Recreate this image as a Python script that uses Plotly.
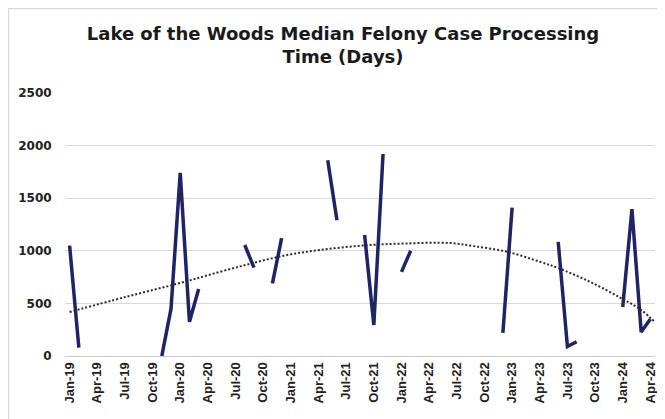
import plotly.graph_objects as go

months = [
    "Jan-19", "Feb-19", "Mar-19", "Apr-19", "May-19", "Jun-19", "Jul-19", "Aug-19", "Sep-19", "Oct-19", "Nov-19", "Dec-19",
    "Jan-20", "Feb-20", "Mar-20", "Apr-20", "May-20", "Jun-20", "Jul-20", "Aug-20", "Sep-20", "Oct-20", "Nov-20", "Dec-20",
    "Jan-21", "Feb-21", "Mar-21", "Apr-21", "May-21", "Jun-21", "Jul-21", "Aug-21", "Sep-21", "Oct-21", "Nov-21", "Dec-21",
    "Jan-22", "Feb-22", "Mar-22", "Apr-22", "May-22", "Jun-22", "Jul-22", "Aug-22", "Sep-22", "Oct-22", "Nov-22", "Dec-22",
    "Jan-23", "Feb-23", "Mar-23", "Apr-23", "May-23", "Jun-23", "Jul-23", "Aug-23", "Sep-23", "Oct-23", "Nov-23", "Dec-23",
    "Jan-24", "Feb-24", "Mar-24", "Apr-24",
]

median_days = [
    1050, 80, None, None, None, None, None, None, None, None, 0, 450,
    1740, 325, 637, None, None, None, None, 1055, 840, None, 690, 1120,
    None, None, None, None, 1860, 1290, None, None, 1150, 295, 1920, None,
    800, 1000, None, None, None, None, None, None, None, None, None, 220,
    1410, None, None, None, None, 1085, 90, 135, None, None, None, None,
    466, 1397, 228, 352,
]

# dotted trendline (month position, value)
trend_month = [0, 6, 12, 16.3, 19.9, 23.6, 27.2, 31.8, 36.5, 41.3, 43.8, 47.5, 51.1, 53, 56.5, 59.8, 62, 63.6]
trend_value = [418, 560, 694, 800, 884, 960, 1008, 1050, 1070, 1074, 1045, 990, 893, 836, 703, 551, 437, 314]

tick_labels = [
    "Jan-19", "Apr-19", "Jul-19", "Oct-19", "Jan-20", "Apr-20", "Jul-20", "Oct-20",
    "Jan-21", "Apr-21", "Jul-21", "Oct-21", "Jan-22", "Apr-22", "Jul-22", "Oct-22",
    "Jan-23", "Apr-23", "Jul-23", "Oct-23", "Jan-24", "Apr-24",
]

y_ticks = [0, 500, 1000, 1500, 2000, 2500]

x_idx = list(range(len(months)))
tick_idx = [months.index(t) for t in tick_labels]

fig = go.Figure()
fig.add_trace(go.Scatter(
    x=x_idx, y=median_days, mode="lines",
    line=dict(color="#1F2466", width=3.5),
    connectgaps=False, hoverinfo="skip", showlegend=False,
))
fig.add_trace(go.Scatter(
    x=trend_month, y=trend_value, mode="lines",
    line=dict(color="#2b2b2b", width=2, dash="2px,2px", shape="spline", smoothing=1.0),
    hoverinfo="skip", showlegend=False,
))

OFF = 8  # page body margin
W, H = 665, 419
L, R, T, B = 65 - OFF, 10 + OFF, 93 - OFF, 63 + OFF
pw, ph = W - L - R, H - T - B

# faint chart-area border on top and left
fig.add_shape(type="path", xref="paper", yref="paper",
              path=f"M {(0.5 - L) / pw} {(H - B - H) / ph} L {(0.5 - L) / pw} {(H - B - 0.5) / ph} L {(W - L) / pw} {(H - B - 0.5) / ph}",
              line=dict(color="#DADADA", width=1.5), layer="below")

fig.update_layout(
    width=W, height=H,
    margin=dict(l=L, r=R, t=T, b=B),
    paper_bgcolor="white", plot_bgcolor="white",
    title=dict(
        text="Lake of the Woods Median Felony Case Processing<br>Time (Days)",
        x=(343 - OFF) / W, xanchor="center", xref="container",
        y=1 - 32 / H, yanchor="top", yref="container",
        font=dict(family="DejaVu Sans", size=18, color="#1a1a1a", weight="bold"),
    ),
    xaxis=dict(
        range=[-0.5, len(months) - 0.5], automargin=False,
        tickmode="array", tickvals=tick_idx, ticktext=tick_labels,
        tickangle=-90,
        tickfont=dict(family="Liberation Sans", size=13, color="#222222", weight="bold"),
        showgrid=False, zeroline=False,
        showline=True, linecolor="#C8C8C8", linewidth=1,
        ticks="", fixedrange=True,
    ),
    yaxis=dict(
        range=[0, 2500], automargin=False,
        tickmode="array", tickvals=y_ticks,
        tickfont=dict(family="DejaVu Sans", size=12, color="#222222", weight="bold"),
        showgrid=True, gridcolor="#D9D9D9", gridwidth=1,
        zeroline=False, showline=False,
        ticks="outside", ticklen=10, tickcolor="rgba(0,0,0,0)",
        fixedrange=True,
    ),
)

fig.write_html("out.html")
